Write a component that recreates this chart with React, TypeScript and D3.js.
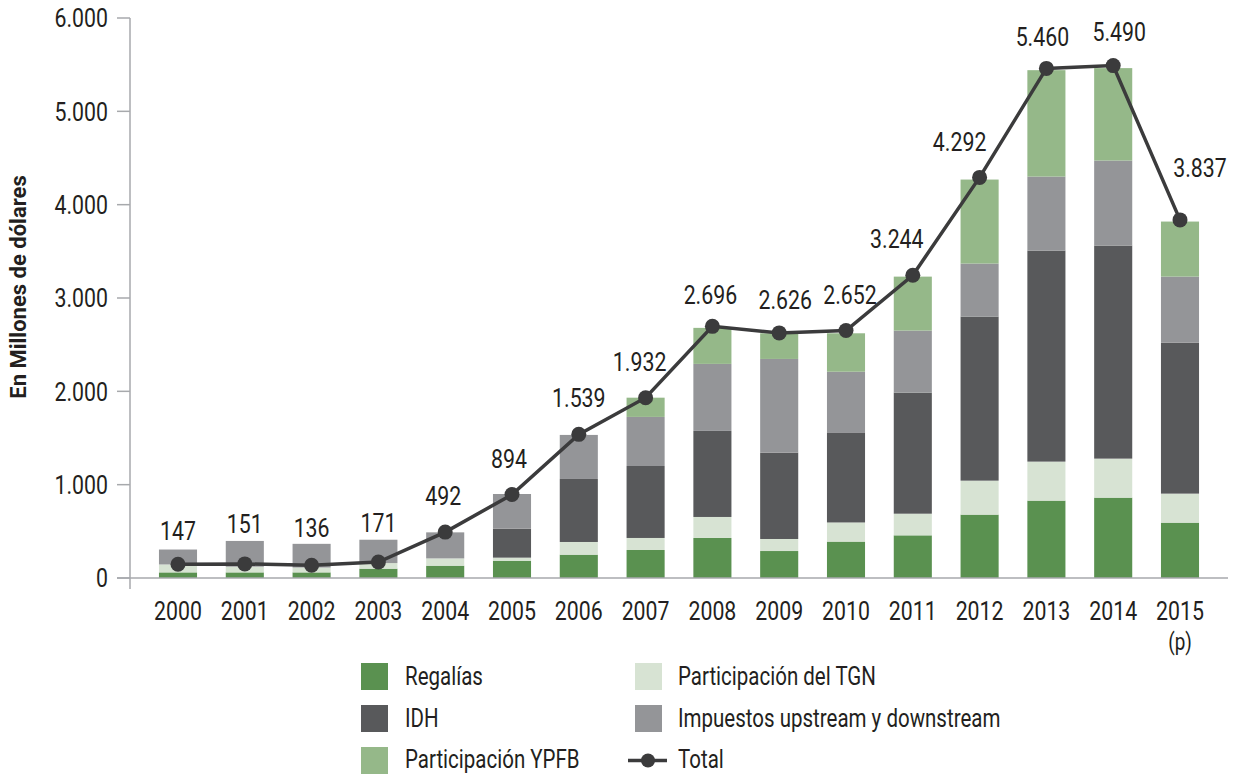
import React from "react";
import * as d3 from "d3";

const years = ["2000","2001","2002","2003","2004","2005","2006","2007","2008","2009","2010","2011","2012","2013","2014","2015"];
const regalias = [60, 60, 60, 100, 132, 185, 250, 300, 429, 289, 390, 457, 679, 829, 861, 593];
const tgn = [85, 61, 52, 60, 78, 33, 136, 129, 225, 129, 205, 232, 364, 418, 418, 311];
const idh = [0, 0, 0, 0, 0, 311, 675, 771, 922, 925, 965, 1297, 1758, 2261, 2283, 1618];
const impuestos = [160, 276, 254, 250, 279, 371, 472, 526, 718, 1004, 650, 665, 568, 793, 911, 707];
const ypfb = [0, 0, 0, 0, 0, 0, 0, 206, 386, 275, 412, 578, 900, 1140, 990, 590];
const totals = [147, 151, 136, 171, 492, 894, 1539, 1932, 2696, 2626, 2652, 3244, 4292, 5460, 5490, 3837];
const yTicks = [0, 1000, 2000, 3000, 4000, 5000, 6000];

const seriesKeys = ["regalias", "tgn", "idh", "impuestos", "ypfb"];
const seriesNames = ["Regalías", "Participación del TGN", "IDH", "Impuestos upstream y downstream", "Participación YPFB"];
const seriesColors = ["#5a9150", "#d7e3d3", "#58595b", "#949598", "#95b889"];

// label nudges (layout only)
const labelDx = [0, 0, 0, 0, -2, -3, 0, -6, -2, 6, 4, -16, -20, -4, 6, 20];
const labelDy = [3, -4, -1, -3, 0, 0, 0, 0, 5, 3, 1, 0, 1, 5, 2, -16];

const FONT = "Roboto, 'Noto Sans', sans-serif";
const TEXT = "#231f20";
const AXIS = "#a7a9ac";
const SX = 0.82;

function fmt(v: number) {
  return d3.format(",")(v).replace(/,/g, ".");
}

function T(props: { x: number; y: number; size: number; anchor?: string; dy?: string; children: any }) {
  const { x, y, size, anchor = "start", dy, children } = props;
  return (
    <text transform={`translate(${x},${y}) scale(${SX},1)`} textAnchor={anchor as any} dy={dy} fontSize={size} fill={TEXT}>
      {children}
    </text>
  );
}

export default function App() {
  const W = 1238, H = 774;
  const x = d3.scaleBand<string>().domain(years).range([144.6, 1213.4]).paddingInner(0.43).paddingOuter(0.215);
  const y = d3.scaleLinear().domain([0, 6000]).range([578, 18]);

  const table = years.map((yr, i) => ({
    year: yr,
    regalias: regalias[i],
    tgn: tgn[i],
    idh: idh[i],
    impuestos: impuestos[i],
    ypfb: ypfb[i],
  }));
  const stack = d3.stack<any>().keys(seriesKeys)(table);

  const cx = (yr: string) => (x(yr) as number) + x.bandwidth() / 2;
  const line = d3.line<number>().x((_, i) => cx(years[i])).y((d) => y(d));

  const legendItems = [
    { i: 0, col: 0, row: 0 },
    { i: 2, col: 0, row: 1 },
    { i: 4, col: 0, row: 2 },
    { i: 1, col: 1, row: 0 },
    { i: 3, col: 1, row: 1 },
  ];
  const colX = [361, 635];
  const rowY = [663, 705, 747];
  const textY = [676.5, 718.5, 759];

  return (
    <svg width={W} height={H} style={{ display: "block", position: "absolute", left: 0, top: 0 }} fontFamily={FONT}>
      <rect width={W} height={H} fill="#fff" />
      {stack.map((s, si) => (
        <g key={si} fill={seriesColors[si]}>
          {s.map((d, di) => (
            d[1] - d[0] > 0 ? (
              <rect key={di} x={x(years[di])} width={x.bandwidth()} y={y(d[1])} height={y(d[0]) - y(d[1])} />
            ) : null
          ))}
        </g>
      ))}
      <line x1={130} x2={130} y1={18} y2={589} stroke={AXIS} strokeWidth={1.5} />
      <line x1={117} x2={1228} y1={578} y2={578} stroke={AXIS} strokeWidth={1.5} />
      {yTicks.map((t) => (
        <g key={t}>
          <line x1={117} x2={130} y1={y(t)} y2={y(t)} stroke={AXIS} strokeWidth={1.5} />
          <T x={108} y={y(t)} dy="0.36em" anchor="end" size={26}>{fmt(t)}</T>
        </g>
      ))}
      {years.map((yr) => (
        <T key={yr} x={cx(yr)} y={620} anchor="middle" size={26}>{yr}</T>
      ))}
      <T x={cx("2015")} y={650} anchor="middle" size={23}>(p)</T>
      <text transform="translate(26,287) rotate(-90)" textAnchor="middle" fontSize={22} fontWeight="bold" fill={TEXT}>En Millones de dólares</text>
      <path d={line(totals) as string} fill="none" stroke="#3b3b3c" strokeWidth={3.5} />
      {totals.map((v, i) => (
        <circle key={i} cx={cx(years[i])} cy={y(v)} r={7.5} fill="#3b3b3c" />
      ))}
      {totals.map((v, i) => (
        <T key={i} x={cx(years[i]) + labelDx[i]} y={y(v) - 27 + labelDy[i]} anchor="middle" size={26}>{fmt(v)}</T>
      ))}
      {legendItems.map((it) => (
        <g key={it.i}>
          <rect x={colX[it.col]} y={rowY[it.row]} width={27} height={27} fill={seriesColors[it.i]} />
          <T x={colX[it.col] + (it.col === 0 ? 44 : 43)} y={textY[it.row]} dy="0.34em" size={25}>{seriesNames[it.i]}</T>
        </g>
      ))}
      <line x1={628} x2={667} y1={rowY[2] + 13.5} y2={rowY[2] + 13.5} stroke="#3b3b3c" strokeWidth={3.5} />
      <circle cx={648} cy={rowY[2] + 13.5} r={7} fill="#3b3b3c" />
      <T x={678} y={textY[2]} dy="0.34em" size={25}>Total</T>
    </svg>
  );
}
